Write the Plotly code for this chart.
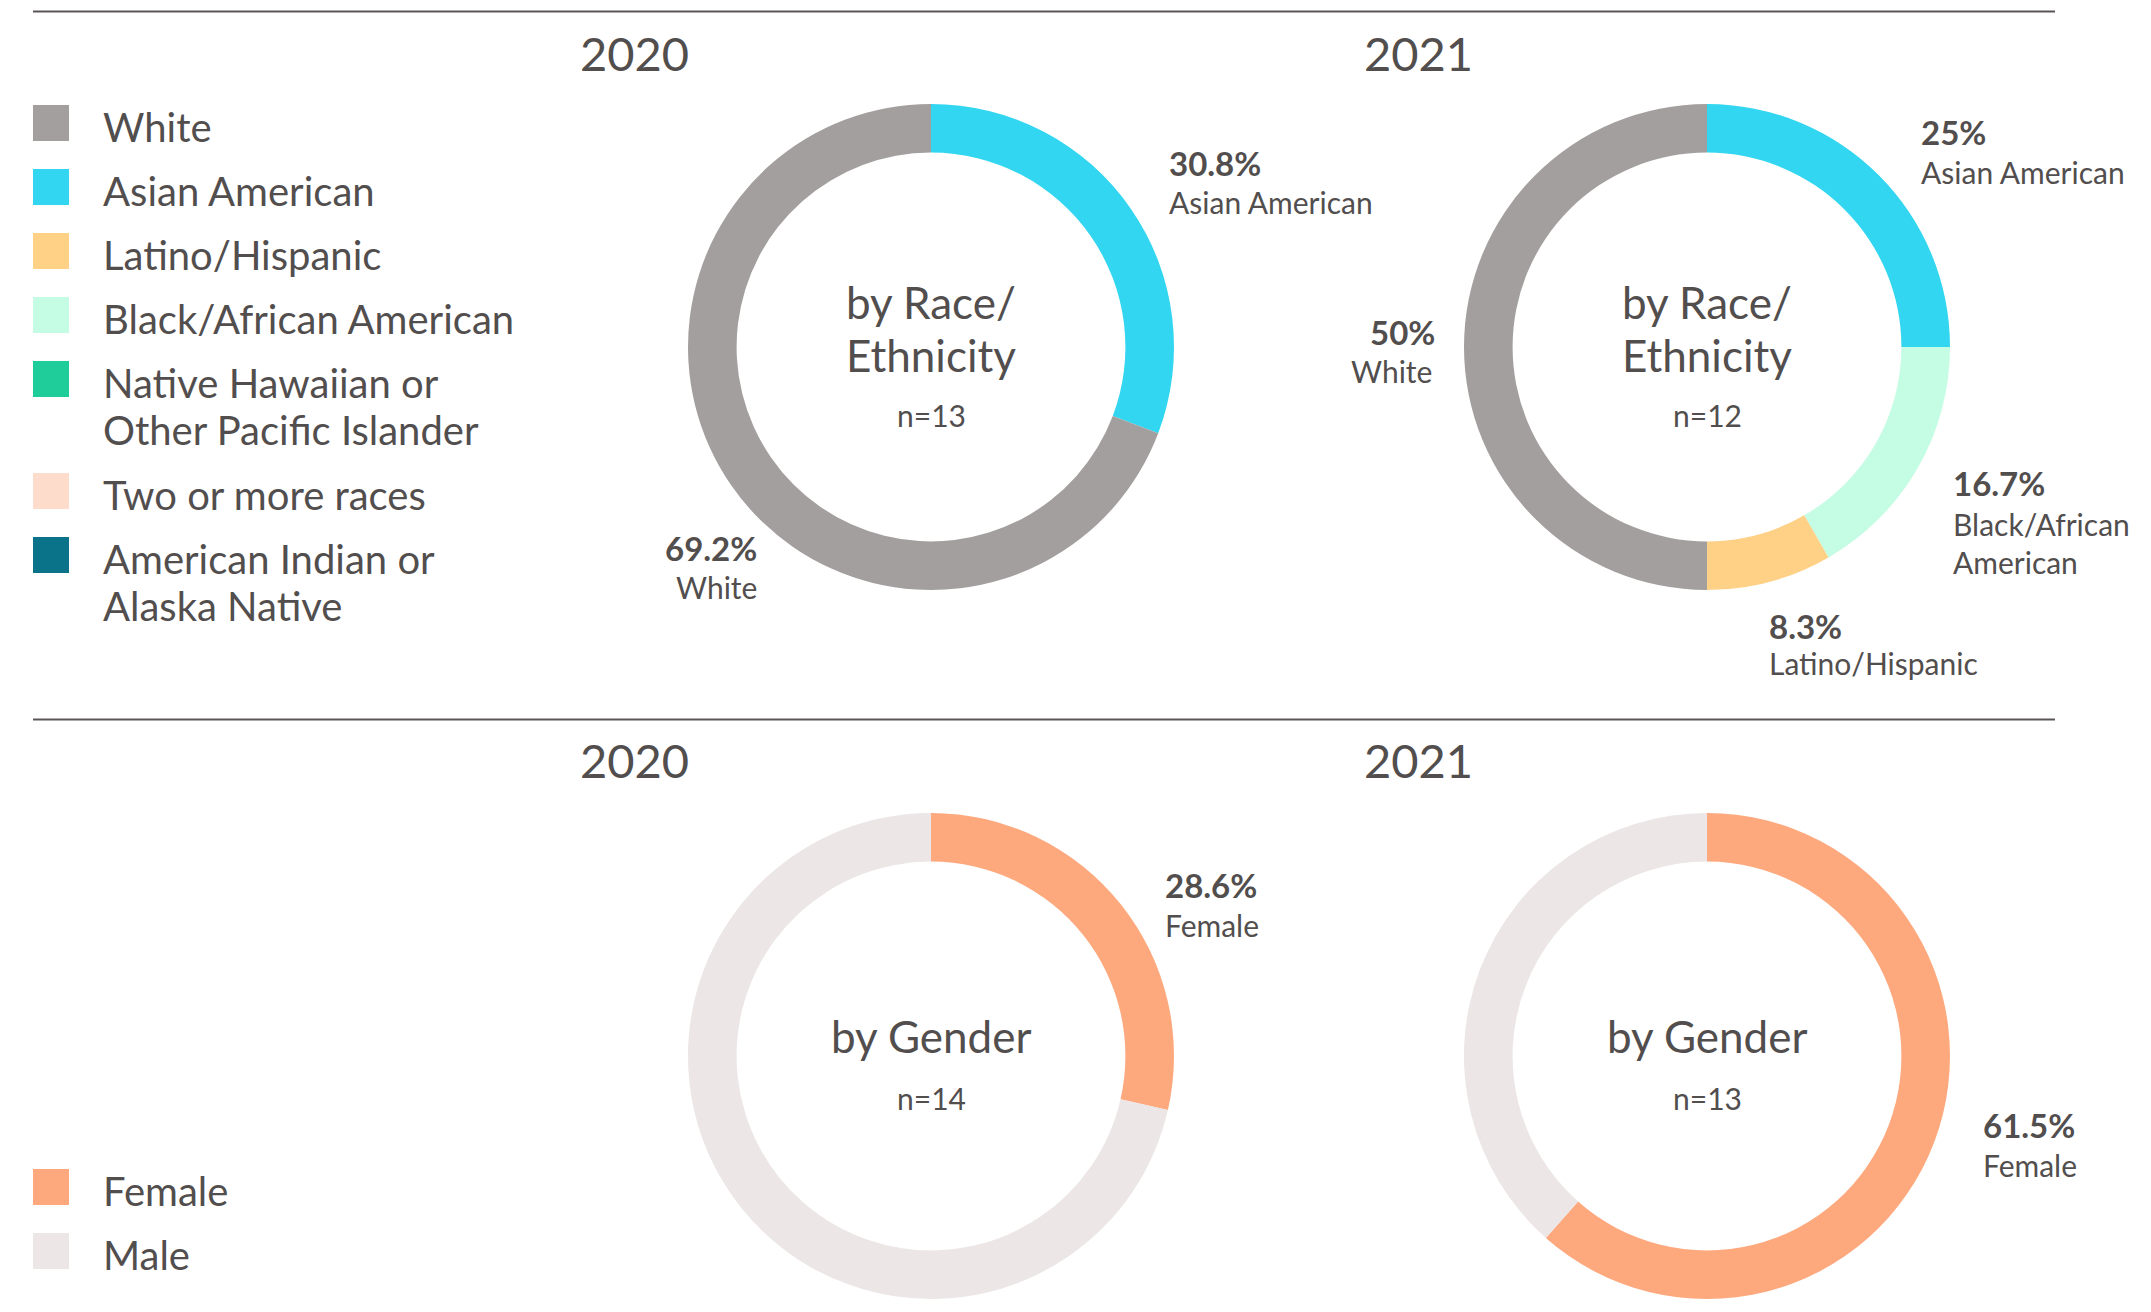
import plotly.graph_objects as go

W, H = 2151, 1312

# ---------------- data ----------------
RACE_CATEGORIES = ["White", "Asian American", "Latino/Hispanic", "Black/African American",
                   "Native Hawaiian or Other Pacific Islander", "Two or more races",
                   "American Indian or Alaska Native"]
RACE_LEGEND_TEXT = [["White"], ["Asian American"], ["Latino/Hispanic"], ["Black/African American"],
                    ["Native Hawaiian or", "Other Pacific Islander"], ["Two or more races"],
                    ["American Indian or", "Alaska Native"]]
RACE_COLORS = ["#a49f9f", "#33d6f0", "#fed186", "#c4fde4", "#1ecd9a", "#fddccb", "#0b7389"]

GENDER_CATEGORIES = ["Female", "Male"]
GENDER_COLORS = ["#fda97d", "#ece6e6"]

YEARS = ["2020", "2021"]

race_2020_labels = ["Asian American", "White"]
race_2020_counts = [4, 9]          # n=13
race_2021_labels = ["Asian American", "Black/African American", "Latino/Hispanic", "White"]
race_2021_counts = [3, 2, 1, 6]    # n=12

gender_2020_counts = [4, 10]       # n=14
gender_2021_counts = [8, 5]        # n=13

# ---------------- helpers ----------------
TXT = "#524e4e"
FONT = "Lato"
OFF = 8  # browser body margin
cmap = dict(zip(RACE_CATEGORIES, RACE_COLORS))


def px(x):
    return (x - OFF) / W


def py(y):
    return 1 - (y - OFF) / H


def pct(count, total):
    s = f"{100 * count / total:.1f}"
    return (s.rstrip("0").rstrip(".")) + "%"


R = 243
CX = [931, 1707]
CY = [347, 1056]

fig = go.Figure()


def add_pie(labels, counts, colors, cx, cy):
    fig.add_trace(go.Pie(
        labels=labels, values=counts, hole=0.8, sort=False, direction="clockwise",
        rotation=0, textinfo="none", showlegend=False,
        marker=dict(colors=colors, line=dict(width=0)),
        domain=dict(x=[px(cx - R), px(cx + R)], y=[py(cy + R), py(cy - R)]),
        hoverinfo="label+percent",
    ))


add_pie(race_2020_labels, race_2020_counts, [cmap[l] for l in race_2020_labels], CX[0], CY[0])
add_pie(race_2021_labels, race_2021_counts, [cmap[l] for l in race_2021_labels], CX[1], CY[0])
add_pie(GENDER_CATEGORIES, gender_2020_counts, GENDER_COLORS, CX[0], CY[1])
add_pie(GENDER_CATEGORIES, gender_2021_counts, GENDER_COLORS, CX[1], CY[1])

ann = []
shapes = []


def text(t, x, y, size, anchor="center", bold=False):
    ann.append(dict(text=f"<b>{t}</b>" if bold else t, x=px(x), y=py(y), xref="paper", yref="paper",
                    xanchor=anchor, yanchor="middle", showarrow=False,
                    font=dict(family=FONT, size=size, color=TXT)))


# separator lines
for ly in [11.5, 719.5]:
    shapes.append(dict(type="line", xref="paper", yref="paper", x0=px(33), x1=px(2055),
                       y0=py(ly), y1=py(ly), line=dict(color="#5a5656", width=2)))

# year titles
for yi, yr in enumerate(YEARS):
    text(yr, [634, 1418][yi], 53, 47)
    text(yr, [634, 1418][yi], 760, 47)

# centre texts
r20 = sum(race_2020_counts)
r21 = sum(race_2021_counts)
g20 = sum(gender_2020_counts)
g21 = sum(gender_2021_counts)
for i, n in enumerate([r20, r21]):
    text("by Race/", CX[i], 302, 44)
    text("Ethnicity", CX[i], 355, 44)
    text(f"n={n}", CX[i], 415, 30)
for i, n in enumerate([g20, g21]):
    text("by Gender", CX[i], 1036, 44)
    text(f"n={n}", CX[i], 1098, 30)

# slice labels
BS, LS = 33, 30
text(pct(race_2020_counts[0], r20), 1167, 163, BS, "left", True)
text("Asian American", 1167, 202, LS, "left")
text(pct(race_2020_counts[1], r20), 759, 548, BS, "right", True)
text("White", 759, 587, LS, "right")

text(pct(race_2021_counts[0], r21), 1919, 132, BS, "left", True)
text("Asian American", 1919, 172, LS, "left")
text(pct(race_2021_counts[3], r21), 1437, 332, BS, "right", True)
text("White", 1434, 371, LS, "right")
text(pct(race_2021_counts[1], r21), 1951, 483, BS, "left", True)
text("Black/African", 1951, 524, LS, "left")
text("American", 1951, 562, LS, "left")
text(pct(race_2021_counts[2], r21), 1767, 626, BS, "left", True)
text("Latino/Hispanic", 1767, 663, LS, "left")

text(pct(gender_2020_counts[0], g20), 1163, 885, BS, "left", True)
text("Female", 1163, 925, LS, "left")
text(pct(gender_2021_counts[0], g21), 1981, 1125, BS, "left", True)
text("Female", 1981, 1165, LS, "left")

# legends (drawn as swatches + text)
SQ = 36
LEG_FS = 40


def legend(items, colors, top):
    y = top
    for lines, col in zip(items, colors):
        shapes.append(dict(type="rect", xref="paper", yref="paper", x0=px(33), x1=px(33 + SQ),
                           y0=py(y + SQ), y1=py(y), fillcolor=col, line=dict(width=0)))
        for k, ln in enumerate(lines):
            text(ln, 101, y + 22 + 47 * k, LEG_FS, "left")
        y += 64 + 48 * (len(lines) - 1)


legend(RACE_LEGEND_TEXT, RACE_COLORS, 105)
legend([[g] for g in GENDER_CATEGORIES], GENDER_COLORS, 1169)

fig.update_layout(
    width=W, height=H, margin=dict(l=0, r=0, t=0, b=0),
    paper_bgcolor="white", plot_bgcolor="white",
    annotations=ann, shapes=shapes, showlegend=False,
    font=dict(family=FONT, color=TXT),
)

fig.write_html("out.html")
